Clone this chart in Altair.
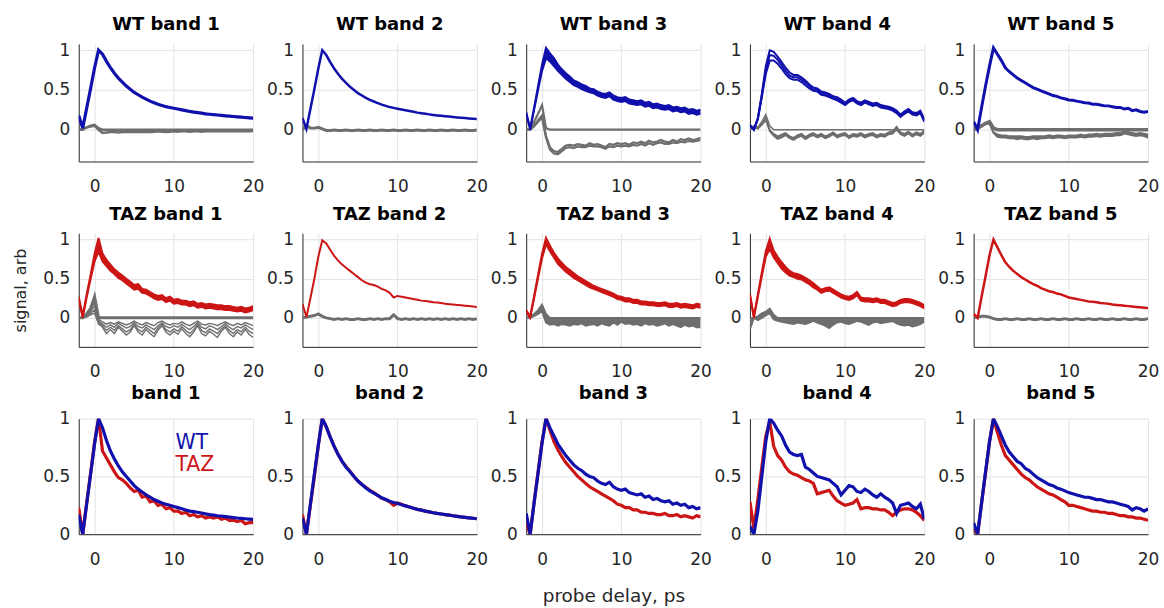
import altair as alt
import pandas as pd

# probe delay grid (ps)
X = [-2, -1.5, -1, -0.5, 0,
     0.5, 1, 1.5, 2, 2.5,
     3, 3.5, 4, 4.5, 5,
     5.5, 6, 6.5, 7, 7.5,
     8, 8.5, 9, 9.5, 10,
     10.5, 11, 11.5, 12, 12.5,
     13, 13.5, 14, 14.5, 15,
     15.5, 16, 16.5, 17, 17.5,
     18, 18.5, 19, 19.5, 20]

TITLES_WT = ["WT band 1", "WT band 2", "WT band 3", "WT band 4", "WT band 5"]
TITLES_TAZ = ["TAZ band 1", "TAZ band 2", "TAZ band 3", "TAZ band 4", "TAZ band 5"]
TITLES_CMP = ["band 1", "band 2", "band 3", "band 4", "band 5"]
LEGEND = ["WT", "TAZ"]
X_TICKS = [0, 10, 20]
Y_TICKS = [0, 0.5, 1]

# ---------------- WT row ----------------
WT1_BLUE = [0.18, 0.02, 0.27, 0.52, 0.78,
            1.00, 0.95, 0.86, 0.78, 0.71,
            0.65, 0.60, 0.55, 0.51, 0.47,
            0.44, 0.41, 0.385, 0.36, 0.34,
            0.32, 0.305, 0.29, 0.28, 0.27,
            0.26, 0.25, 0.24, 0.23, 0.222,
            0.215, 0.208, 0.20, 0.195, 0.19,
            0.185, 0.18, 0.175, 0.17, 0.166,
            0.162, 0.158, 0.154, 0.15, 0.147]
WT1_GRAY_A = [0, 0, 0.03, 0.05, 0.06,
              0.02, 0, 0, 0, 0,
              0, 0, 0, 0, 0,
              0, 0, 0, 0, 0,
              0, 0, 0, 0, 0,
              0, 0, 0, 0, 0,
              0, 0, 0, 0, 0,
              0, 0, 0, 0, 0,
              0, 0, 0, 0, 0]
WT1_GRAY_B = [0, 0.01, 0.03, 0.04, 0.05,
              0.0, -0.04, -0.035, -0.03, -0.03,
              -0.035, -0.03, -0.03, -0.025, -0.03,
              -0.03, -0.025, -0.03, -0.03, -0.025,
              -0.02, -0.025, -0.03, -0.025, -0.02,
              -0.025, -0.02, -0.02, -0.025, -0.02,
              -0.02, -0.025, -0.02, -0.02, -0.02,
              -0.015, -0.02, -0.02, -0.015, -0.02,
              -0.02, -0.015, -0.02, -0.02, -0.015]

WT2_BLUE = [0.15, 0.01, 0.26, 0.51, 0.77,
            1.00, 0.94, 0.85, 0.77, 0.70,
            0.64, 0.59, 0.54, 0.50, 0.46,
            0.43, 0.40, 0.375, 0.355, 0.335,
            0.315, 0.30, 0.285, 0.275, 0.265,
            0.255, 0.245, 0.235, 0.225, 0.215,
            0.208, 0.20, 0.193, 0.186, 0.18,
            0.175, 0.17, 0.165, 0.16, 0.155,
            0.15, 0.146, 0.142, 0.138, 0.134]
WT2_GRAY = [0, 0.05, 0.02, 0.02, 0.03,
            0.01, -0.01, -0.01, -0.005, -0.01,
            -0.01, -0.005, -0.01, -0.01, -0.005,
            -0.01, -0.01, -0.005, -0.01, -0.01,
            -0.005, -0.01, -0.01, -0.005, -0.01,
            -0.01, -0.005, -0.01, -0.01, -0.005,
            -0.01, -0.01, -0.005, -0.01, -0.01,
            -0.005, -0.01, -0.01, -0.005, -0.01,
            -0.01, -0.005, -0.01, -0.01, -0.005]

WT3_BLUE_HI = [0.22, 0.02, 0.28, 0.55, 0.82,
               1.03, 0.96, 0.90, 0.82, 0.76,
               0.71, 0.67, 0.62, 0.60, 0.57,
               0.55, 0.52, 0.51, 0.48, 0.46,
               0.45, 0.47, 0.43, 0.41, 0.40,
               0.41, 0.38, 0.37, 0.36, 0.37,
               0.34, 0.35, 0.32, 0.33, 0.31,
               0.30, 0.31, 0.28, 0.29, 0.27,
               0.28, 0.25, 0.26, 0.24, 0.25]
WT3_BLUE_LO = [0.20, 0.0, 0.25, 0.50, 0.74,
               0.90, 0.86, 0.80, 0.74, 0.69,
               0.64, 0.60, 0.56, 0.54, 0.51,
               0.49, 0.47, 0.46, 0.43, 0.41,
               0.40, 0.42, 0.38, 0.36, 0.35,
               0.36, 0.33, 0.32, 0.31, 0.32,
               0.29, 0.30, 0.27, 0.28, 0.26,
               0.25, 0.26, 0.23, 0.24, 0.22,
               0.23, 0.20, 0.21, 0.19, 0.20]
WT3_GRAY_A = [0, 0, 0.10, 0.20, 0.31,
              0.02, 0, 0, 0, 0,
              0, 0, 0, 0, 0,
              0, 0, 0, 0, 0,
              0, 0, 0, 0, 0,
              0, 0, 0, 0, 0,
              0, 0, 0, 0, 0,
              0, 0, 0, 0, 0,
              0, 0, 0, 0, 0]
WT3_GRAY_B = [0, 0, 0.05, 0.12, 0.18,
              -0.08, -0.22, -0.27, -0.28, -0.24,
              -0.20, -0.19, -0.20, -0.18, -0.19,
              -0.20, -0.17, -0.19, -0.18, -0.20,
              -0.22, -0.18, -0.19, -0.17, -0.18,
              -0.17, -0.19, -0.16, -0.17, -0.15,
              -0.17, -0.14, -0.16, -0.15, -0.13,
              -0.15, -0.16, -0.13, -0.15, -0.12,
              -0.13, -0.11, -0.13, -0.12, -0.10]
WT3_GRAY_C = [0, 0, 0.04, 0.10, 0.15,
              -0.10, -0.25, -0.30, -0.31, -0.27,
              -0.23, -0.22, -0.23, -0.21, -0.22,
              -0.22, -0.20, -0.21, -0.21, -0.22,
              -0.24, -0.21, -0.22, -0.20, -0.21,
              -0.20, -0.21, -0.19, -0.20, -0.18,
              -0.20, -0.17, -0.19, -0.17, -0.16,
              -0.18, -0.18, -0.16, -0.17, -0.15,
              -0.16, -0.14, -0.15, -0.14, -0.13]

WT4_BLUE_A = [0.06, 0.0, 0.15, 0.45, 0.80,
              1.00, 0.98, 0.92, 0.85, 0.78,
              0.72, 0.69, 0.69, 0.66, 0.62,
              0.57, 0.53, 0.52, 0.48, 0.47,
              0.45, 0.42, 0.41, 0.38, 0.34,
              0.38, 0.40, 0.36, 0.34, 0.37,
              0.35, 0.33, 0.34, 0.31, 0.30,
              0.29, 0.27, 0.24, 0.19, 0.23,
              0.26, 0.22, 0.21, 0.24, 0.13]
WT4_BLUE_B = [0.06, 0.0, 0.14, 0.43, 0.75,
              0.94, 0.93, 0.88, 0.81, 0.74,
              0.68, 0.66, 0.66, 0.63, 0.59,
              0.55, 0.51, 0.50, 0.46, 0.45,
              0.43, 0.40, 0.39, 0.36, 0.33,
              0.36, 0.38, 0.34, 0.33, 0.35,
              0.33, 0.32, 0.32, 0.30, 0.29,
              0.28, 0.26, 0.23, 0.18, 0.22,
              0.25, 0.21, 0.20, 0.23, 0.12]
WT4_BLUE_C = [0.05, 0.0, 0.13, 0.41, 0.70,
              0.87, 0.87, 0.83, 0.77, 0.70,
              0.65, 0.63, 0.63, 0.60, 0.56,
              0.52, 0.49, 0.48, 0.44, 0.43,
              0.41, 0.39, 0.37, 0.34, 0.31,
              0.35, 0.37, 0.33, 0.31, 0.34,
              0.32, 0.30, 0.31, 0.28, 0.27,
              0.26, 0.24, 0.21, 0.16, 0.20,
              0.23, 0.19, 0.18, 0.21, 0.10]
WT4_GRAY_A = [0, 0.05, 0.03, 0.10, 0.19,
              0.05, 0, 0, 0, 0,
              0, 0, 0, 0, 0,
              0, 0, 0, 0, 0,
              0, 0, 0, 0, 0,
              0, 0, 0, 0, 0,
              0, 0, 0, 0, 0,
              0, 0, 0, 0, 0,
              0, 0, 0, 0, 0]
WT4_GRAY_B = [0, 0.04, 0.02, 0.08, 0.15,
              0.0, -0.05, -0.08, -0.06, -0.04,
              -0.08, -0.10, -0.07, -0.05, -0.09,
              -0.06, -0.04, -0.07, -0.05, -0.08,
              -0.06, -0.03, -0.07, -0.05, -0.04,
              -0.08, -0.05, -0.06, -0.04, -0.07,
              -0.05, -0.04, -0.07, -0.05, -0.06,
              -0.03, -0.02, 0.04, -0.03, -0.05,
              -0.02, -0.06, -0.03, -0.05, -0.01]
WT4_GRAY_C = [0, 0.03, 0.01, 0.06, 0.12,
              -0.02, -0.08, -0.12, -0.10, -0.07,
              -0.11, -0.13, -0.10, -0.08, -0.12,
              -0.09, -0.07, -0.10, -0.08, -0.11,
              -0.09, -0.06, -0.10, -0.08, -0.07,
              -0.11, -0.08, -0.09, -0.07, -0.10,
              -0.08, -0.07, -0.10, -0.08, -0.09,
              -0.06, -0.05, 0.00, -0.06, -0.08,
              -0.05, -0.09, -0.06, -0.08, -0.04]

WT5_BLUE = [0.10, 0.0, 0.28, 0.55, 0.80,
            1.03, 0.95, 0.87, 0.78, 0.73,
            0.69, 0.65, 0.62, 0.59, 0.56,
            0.53, 0.51, 0.49, 0.47, 0.45,
            0.43, 0.42, 0.40, 0.39, 0.375,
            0.37, 0.36, 0.35, 0.34, 0.335,
            0.32, 0.32, 0.31, 0.30, 0.30,
            0.29, 0.28, 0.28, 0.26, 0.27,
            0.24, 0.25, 0.23, 0.22, 0.23]
WT5_GRAY_A = [0, 0.02, 0.05, 0.08, 0.10,
              0.02, 0, 0, 0, 0,
              0, 0, 0, 0, 0,
              0, 0, 0, 0, 0,
              0, 0, 0, 0, 0,
              0, 0, 0, 0, 0,
              0, 0, 0, 0, 0,
              0, 0, 0, 0, 0,
              0, 0, 0, 0, 0]
WT5_GRAY_B = [0, 0.01, 0.04, 0.07, 0.08,
              -0.04, -0.09, -0.10, -0.10, -0.11,
              -0.11, -0.12, -0.11, -0.12, -0.12,
              -0.11, -0.12, -0.11, -0.11, -0.10,
              -0.11, -0.10, -0.10, -0.11, -0.10,
              -0.10, -0.10, -0.09, -0.10, -0.09,
              -0.09, -0.08, -0.09, -0.08, -0.08,
              -0.08, -0.07, -0.07, -0.05, -0.06,
              -0.07, -0.08, -0.07, -0.08, -0.10]
WT5_GRAY_C = [0, 0.01, 0.04, 0.07, 0.08,
              -0.03, -0.06, -0.07, -0.07, -0.08,
              -0.08, -0.08, -0.08, -0.09, -0.09,
              -0.08, -0.08, -0.08, -0.08, -0.07,
              -0.08, -0.07, -0.07, -0.08, -0.07,
              -0.07, -0.07, -0.06, -0.07, -0.06,
              -0.06, -0.05, -0.06, -0.05, -0.05,
              -0.05, -0.04, -0.04, -0.02, -0.03,
              -0.04, -0.05, -0.04, -0.05, -0.06]

# ---------------- TAZ row ----------------
TAZ1_RED_HI = [0.27, 0.03, 0.30, 0.55, 0.82,
               1.02, 0.82, 0.74, 0.68, 0.62,
               0.58, 0.54, 0.50, 0.46, 0.42,
               0.43, 0.37, 0.36, 0.33, 0.30,
               0.28, 0.29, 0.25, 0.27, 0.23,
               0.24, 0.22, 0.22, 0.20, 0.21,
               0.18, 0.19, 0.17, 0.18, 0.17,
               0.16, 0.16, 0.15, 0.15, 0.14,
               0.13, 0.14, 0.12, 0.13, 0.15]
TAZ1_RED_LO = [0.23, 0.0, 0.26, 0.50, 0.72,
               0.85, 0.72, 0.66, 0.60, 0.56,
               0.51, 0.48, 0.44, 0.40, 0.36,
               0.37, 0.32, 0.31, 0.28, 0.25,
               0.23, 0.24, 0.20, 0.22, 0.18,
               0.19, 0.17, 0.17, 0.15, 0.16,
               0.13, 0.14, 0.12, 0.13, 0.12,
               0.11, 0.11, 0.10, 0.10, 0.09,
               0.08, 0.09, 0.07, 0.08, 0.10]
TAZ1_GRAY_0 = [0, 0, 0.05, 0.12, 0.27,
               0.0, 0, 0, 0, 0,
               0, 0, 0, 0, 0,
               0, 0, 0, 0, 0,
               0, 0, 0, 0, 0,
               0, 0, 0, 0, 0,
               0, 0, 0, 0, 0,
               0, 0, 0, 0, 0,
               0, 0, 0, 0, 0]
TAZ1_GRAY_1 = [0, 0, 0.04, 0.10, 0.20,
               -0.02, -0.05, -0.08, -0.06, -0.08,
               -0.05, -0.07, -0.09, -0.07, -0.04,
               -0.07, -0.09, -0.06, -0.08, -0.10,
               -0.06, -0.04, -0.07, -0.09, -0.07,
               -0.08, -0.05, -0.08, -0.10, -0.07,
               -0.04, -0.08, -0.09, -0.07, -0.08,
               -0.10, -0.07, -0.05, -0.08, -0.10,
               -0.07, -0.09, -0.06, -0.08, -0.10]
TAZ1_GRAY_2 = [0, 0, 0.03, 0.08, 0.15,
               -0.04, -0.08, -0.12, -0.09, -0.12,
               -0.07, -0.10, -0.13, -0.11, -0.06,
               -0.11, -0.13, -0.09, -0.12, -0.15,
               -0.10, -0.06, -0.11, -0.13, -0.10,
               -0.12, -0.08, -0.12, -0.15, -0.11,
               -0.06, -0.12, -0.14, -0.10, -0.12,
               -0.15, -0.11, -0.07, -0.12, -0.15,
               -0.11, -0.13, -0.09, -0.12, -0.15]
TAZ1_GRAY_3 = [0, 0, 0.02, 0.06, 0.10,
               -0.06, -0.10, -0.16, -0.12, -0.16,
               -0.10, -0.14, -0.18, -0.15, -0.08,
               -0.15, -0.18, -0.12, -0.16, -0.20,
               -0.13, -0.08, -0.15, -0.18, -0.14,
               -0.17, -0.11, -0.16, -0.20, -0.15,
               -0.08, -0.16, -0.19, -0.14, -0.17,
               -0.20, -0.14, -0.10, -0.16, -0.20,
               -0.15, -0.18, -0.12, -0.17, -0.20]
TAZ1_GRAY_4 = [0, 0, 0.01, 0.04, 0.06,
               -0.08, -0.12, -0.20, -0.15, -0.20,
               -0.12, -0.17, -0.22, -0.18, -0.10,
               -0.18, -0.22, -0.15, -0.20, -0.24,
               -0.16, -0.10, -0.18, -0.22, -0.17,
               -0.21, -0.14, -0.20, -0.24, -0.18,
               -0.10, -0.20, -0.23, -0.17, -0.21,
               -0.25, -0.17, -0.12, -0.20, -0.24,
               -0.18, -0.22, -0.15, -0.21, -0.25]

TAZ2_RED = [0.18, 0.01, 0.25, 0.50, 0.78,
            0.99, 0.95, 0.87, 0.79, 0.73,
            0.68, 0.64, 0.60, 0.56, 0.52,
            0.48, 0.45, 0.43, 0.42, 0.40,
            0.37, 0.35, 0.32, 0.26, 0.28,
            0.27, 0.26, 0.25, 0.24, 0.23,
            0.22, 0.215, 0.21, 0.20, 0.195,
            0.19, 0.18, 0.175, 0.17, 0.165,
            0.16, 0.155, 0.15, 0.145, 0.14]
TAZ2_GRAY = [0, 0.01, 0.02, 0.03, 0.05,
             0.02, 0.0, -0.01, -0.02, -0.01,
             -0.02, -0.01, -0.02, -0.02, -0.01,
             -0.02, -0.02, -0.01, -0.02, -0.01,
             -0.02, -0.01, -0.01, 0.04, -0.01,
             -0.02, -0.01, -0.02, -0.01, -0.02,
             -0.01, -0.02, -0.01, -0.02, -0.01,
             -0.02, -0.01, -0.02, -0.01, -0.02,
             -0.01, -0.02, -0.01, -0.02, -0.01]

TAZ3_RED_HI = [0.10, 0.02, 0.28, 0.55, 0.82,
               1.02, 0.92, 0.83, 0.76, 0.70,
               0.65, 0.61, 0.57, 0.53, 0.50,
               0.47, 0.44, 0.41, 0.39, 0.37,
               0.35, 0.33, 0.31, 0.28, 0.27,
               0.25, 0.25, 0.23, 0.23, 0.21,
               0.21, 0.20, 0.20, 0.19, 0.19,
               0.20, 0.18, 0.18, 0.19, 0.17,
               0.18, 0.17, 0.16, 0.18, 0.17]
TAZ3_RED_LO = [0.08, 0.0, 0.25, 0.51, 0.76,
               0.94, 0.85, 0.77, 0.69, 0.64,
               0.59, 0.55, 0.51, 0.48, 0.45,
               0.42, 0.39, 0.37, 0.35, 0.33,
               0.31, 0.29, 0.27, 0.24, 0.23,
               0.21, 0.21, 0.19, 0.19, 0.17,
               0.17, 0.16, 0.16, 0.15, 0.15,
               0.16, 0.14, 0.14, 0.15, 0.13,
               0.14, 0.13, 0.12, 0.14, 0.13]
TAZ3_GRAY_HI = [0, 0.02, 0.05, 0.10, 0.17,
                0.05, 0, 0, 0, 0,
                0, 0, 0, 0, 0,
                0, 0, 0, 0, 0,
                0, 0, 0, 0, 0,
                0, 0, 0, 0, 0,
                0, 0, 0, 0, 0,
                0, 0, 0, 0, 0,
                0, 0, 0, 0, 0]
TAZ3_GRAY_LO = [0, 0, 0.02, 0.05, 0.08,
                -0.06, -0.09, -0.08, -0.10, -0.08,
                -0.09, -0.10, -0.08, -0.09, -0.07,
                -0.10, -0.09, -0.08, -0.10, -0.07,
                -0.09, -0.10, -0.06, -0.09, -0.05,
                -0.08, -0.07, -0.09, -0.08, -0.10,
                -0.07, -0.09, -0.08, -0.10, -0.09,
                -0.07, -0.10, -0.08, -0.10, -0.12,
                -0.09, -0.11, -0.10, -0.12, -0.12]

TAZ4_RED_HI = [0.31, 0.02, 0.30, 0.58, 0.85,
               1.01, 0.86, 0.78, 0.71, 0.65,
               0.60, 0.57, 0.56, 0.54, 0.51,
               0.48, 0.44, 0.40, 0.36, 0.38,
               0.39, 0.36, 0.33, 0.30, 0.28,
               0.27, 0.29, 0.33, 0.26, 0.25,
               0.25, 0.24, 0.25, 0.23, 0.23,
               0.21, 0.19, 0.20, 0.23, 0.24,
               0.24, 0.23, 0.21, 0.19, 0.16]
TAZ4_RED_LO = [0.28, 0.0, 0.27, 0.53, 0.78,
               0.88, 0.77, 0.70, 0.63, 0.58,
               0.54, 0.52, 0.50, 0.49, 0.46,
               0.43, 0.39, 0.36, 0.32, 0.34,
               0.35, 0.32, 0.29, 0.26, 0.24,
               0.23, 0.25, 0.29, 0.22, 0.21,
               0.21, 0.20, 0.21, 0.19, 0.19,
               0.17, 0.15, 0.16, 0.19, 0.20,
               0.20, 0.19, 0.17, 0.15, 0.12]
TAZ4_GRAY_HI = [0, 0, 0.02, 0.06, 0.08,
                0.12, 0.04, 0, 0, 0,
                0, 0, 0, 0, 0,
                0, 0, 0, 0, 0,
                0, 0, 0, 0, 0,
                0, 0, 0, 0, 0,
                0, 0, 0, 0, 0,
                0, 0, 0, 0, 0,
                0, 0, 0, 0, 0]
TAZ4_GRAY_LO = [-0.15, 0.0, -0.03, 0.0, 0.03,
                0.06, -0.02, -0.04, -0.05, -0.06,
                -0.07, -0.08, -0.06, -0.07, -0.08,
                -0.06, -0.04, -0.06, -0.08, -0.10,
                -0.13, -0.09, -0.06, -0.05, -0.07,
                -0.08, -0.06, -0.04, -0.05, -0.07,
                -0.09, -0.06, -0.05, -0.07, -0.06,
                -0.05, -0.04, -0.07, -0.09, -0.10,
                -0.09, -0.11, -0.10, -0.08, -0.05]

TAZ5_RED = [0.05, 0.0, 0.27, 0.53, 0.80,
            1.00, 0.90, 0.80, 0.71, 0.65,
            0.60, 0.56, 0.52, 0.49, 0.46,
            0.43, 0.41, 0.38, 0.36, 0.34,
            0.33, 0.31, 0.30, 0.28, 0.26,
            0.25, 0.24, 0.23, 0.22, 0.21,
            0.205, 0.20, 0.19, 0.185, 0.18,
            0.17, 0.165, 0.16, 0.155, 0.15,
            0.145, 0.14, 0.135, 0.13, 0.125]
TAZ5_GRAY = [0, 0.01, 0.02, 0.02, 0.01,
             -0.01, -0.02, -0.02, -0.01, -0.02,
             -0.02, -0.01, -0.02, -0.02, -0.01,
             -0.02, -0.02, -0.01, -0.02, -0.02,
             -0.01, -0.02, -0.02, -0.01, -0.02,
             -0.02, -0.01, -0.02, -0.02, -0.01,
             -0.02, -0.02, -0.01, -0.02, -0.02,
             -0.01, -0.02, -0.02, -0.01, -0.02,
             -0.02, -0.01, -0.02, -0.02, -0.01]

# ---------------- comparison row ----------------
CMP1_WT = [0.17, 0.0, 0.26, 0.52, 0.78,
           1.00, 0.92, 0.81, 0.72, 0.65,
           0.59, 0.54, 0.50, 0.46, 0.42,
           0.39, 0.365, 0.34, 0.32, 0.30,
           0.285, 0.27, 0.26, 0.25, 0.24,
           0.23, 0.22, 0.21, 0.20, 0.195,
           0.19, 0.183, 0.176, 0.17, 0.165,
           0.16, 0.156, 0.152, 0.148, 0.144,
           0.14, 0.137, 0.134, 0.131, 0.128]
CMP1_TAZ = [0.23, 0.0, 0.27, 0.53, 0.80,
            1.00, 0.72, 0.66, 0.60, 0.54,
            0.49, 0.47, 0.44, 0.40, 0.37,
            0.38, 0.32, 0.33, 0.28, 0.29,
            0.25, 0.26, 0.22, 0.23, 0.20,
            0.20, 0.18, 0.19, 0.16, 0.17,
            0.15, 0.16, 0.14, 0.15, 0.14,
            0.15, 0.13, 0.14, 0.12, 0.12,
            0.11, 0.12, 0.09, 0.10, 0.10]
CMP2_WT = [0.14, 0.0, 0.26, 0.52, 0.77,
           1.00, 0.93, 0.84, 0.76, 0.69,
           0.63, 0.58, 0.54, 0.50, 0.46,
           0.43, 0.40, 0.375, 0.355, 0.335,
           0.315, 0.30, 0.285, 0.275, 0.265,
           0.255, 0.245, 0.235, 0.225, 0.215,
           0.208, 0.20, 0.193, 0.186, 0.18,
           0.175, 0.17, 0.165, 0.16, 0.155,
           0.15, 0.146, 0.142, 0.138, 0.134]
CMP2_TAZ = [0.17, 0.0, 0.25, 0.50, 0.77,
            1.00, 0.93, 0.84, 0.76, 0.69,
            0.63, 0.585, 0.545, 0.50, 0.46,
            0.43, 0.405, 0.38, 0.36, 0.335,
            0.31, 0.30, 0.28, 0.25, 0.27,
            0.26, 0.245, 0.235, 0.225, 0.215,
            0.208, 0.20, 0.193, 0.186, 0.18,
            0.175, 0.17, 0.165, 0.16, 0.155,
            0.15, 0.146, 0.142, 0.138, 0.134]
CMP3_WT = [0.18, 0.0, 0.27, 0.53, 0.79,
           1.00, 0.92, 0.85, 0.78, 0.73,
           0.68, 0.64, 0.60, 0.57, 0.55,
           0.52, 0.50, 0.49, 0.46, 0.44,
           0.43, 0.45, 0.41, 0.39, 0.38,
           0.39, 0.36, 0.35, 0.34, 0.35,
           0.32, 0.33, 0.30, 0.31, 0.29,
           0.28, 0.29, 0.26, 0.27, 0.25,
           0.26, 0.23, 0.24, 0.22, 0.23]
CMP3_TAZ = [0.10, 0.0, 0.28, 0.54, 0.80,
            1.00, 0.90, 0.80, 0.73, 0.67,
            0.62, 0.58, 0.54, 0.50, 0.47,
            0.44, 0.41, 0.39, 0.37, 0.35,
            0.33, 0.31, 0.29, 0.26, 0.25,
            0.23, 0.23, 0.21, 0.21, 0.19,
            0.19, 0.18, 0.18, 0.17, 0.17,
            0.18, 0.16, 0.16, 0.17, 0.15,
            0.16, 0.15, 0.14, 0.16, 0.15]
CMP4_WT = [0.07, 0.0, 0.20, 0.50, 0.80,
           1.00, 0.96, 0.90, 0.85, 0.77,
           0.71, 0.69, 0.68, 0.69, 0.58,
           0.56, 0.53, 0.50, 0.49, 0.48,
           0.47, 0.44, 0.41, 0.34, 0.38,
           0.42, 0.41, 0.37, 0.36, 0.39,
           0.37, 0.34, 0.32, 0.35, 0.32,
           0.30, 0.27, 0.18, 0.25, 0.26,
           0.27, 0.24, 0.22, 0.26, 0.13]
CMP4_TAZ = [0.28, 0.05, 0.30, 0.58, 0.85,
            0.97, 0.76, 0.68, 0.64, 0.58,
            0.54, 0.52, 0.51, 0.49, 0.47,
            0.46, 0.44, 0.35, 0.36, 0.37,
            0.38, 0.33, 0.29, 0.27, 0.25,
            0.26, 0.27, 0.30, 0.22, 0.23,
            0.23, 0.22, 0.22, 0.21, 0.21,
            0.19, 0.16, 0.19, 0.21, 0.22,
            0.22, 0.21, 0.19, 0.16, 0.12]
CMP5_WT = [0.10, 0.0, 0.27, 0.54, 0.80,
           1.00, 0.93, 0.85, 0.77, 0.71,
           0.67, 0.63, 0.61, 0.57, 0.55,
           0.52, 0.49, 0.47, 0.45, 0.43,
           0.42, 0.40, 0.39, 0.375, 0.36,
           0.35, 0.34, 0.33, 0.32, 0.32,
           0.31, 0.30, 0.30, 0.29, 0.28,
           0.28, 0.27, 0.26, 0.25, 0.24,
           0.21, 0.23, 0.22, 0.20, 0.22]
CMP5_TAZ = [0.05, 0.0, 0.27, 0.53, 0.80,
            1.00, 0.88, 0.77, 0.68, 0.64,
            0.60, 0.56, 0.52, 0.49, 0.47,
            0.44, 0.41, 0.39, 0.37, 0.35,
            0.34, 0.32, 0.30, 0.28, 0.25,
            0.25, 0.24, 0.23, 0.22, 0.21,
            0.20, 0.20, 0.19, 0.19, 0.18,
            0.18, 0.17, 0.16, 0.16, 0.15,
            0.15, 0.14, 0.14, 0.13, 0.12]

# ---------------- styling ----------------
BLUE = "#1010ac"
RED = "#cc1515"
GRAY = "#6e6e6e"
FONT = "DejaVu Sans"
TEXT = "#262626"
PANEL_W = 175


def line(vals, color, sw):
    return ("line", vals, color, sw)


def band(lo, hi, color, sw):
    return ("band", lo, hi, color, sw)


def make_panel(title, items, ydom, height, xtitle=None, ytitle=None, legend=False):
    xaxis = alt.Axis(values=X_TICKS, title=xtitle, titleFontSize=18.5,
                     titlePadding=20)
    yaxis = alt.Axis(values=Y_TICKS, format="~g", title=ytitle,
                     titleFontSize=16, titlePadding=14)
    xenc = alt.X("x:Q", scale=alt.Scale(domain=[-2, 20], nice=False, zero=False), axis=xaxis)
    yenc = alt.Y("y:Q", scale=alt.Scale(domain=ydom, nice=False, zero=False), axis=yaxis)
    layers = []
    for it in items:
        if it[0] == "band":
            _, lo, hi, color, sw = it
            df = pd.DataFrame({"x": X, "y": lo, "y2": hi})
            layers.append(alt.Chart(df).mark_area(color=color, opacity=1, clip=True)
                          .encode(x=xenc, y=yenc, y2="y2:Q"))
            for arr in (lo, hi):
                d2 = pd.DataFrame({"x": X, "y": arr})
                layers.append(alt.Chart(d2).mark_line(color=color, strokeWidth=sw, clip=True)
                              .encode(x=xenc, y=yenc))
        else:
            _, vals, color, sw = it
            d2 = pd.DataFrame({"x": X, "y": vals})
            layers.append(alt.Chart(d2).mark_line(color=color, strokeWidth=sw, clip=True)
                          .encode(x=xenc, y=yenc))
    if legend:
        for lab, col, ypix in ((LEGEND[0], BLUE, 24), (LEGEND[1], RED, 47)):
            layers.append(
                alt.Chart(pd.DataFrame({"t": [lab]}))
                .mark_text(align="left", baseline="middle", font=FONT, fontSize=20.5, color=col)
                .encode(text="t:N", x=alt.value(97), y=alt.value(ypix))
            )
    return alt.layer(*layers).properties(width=PANEL_W, height=height, title=title)


TOP_DOM = [-0.4, 1.08]
MID_DOM = [-0.37, 1.08]
BOT_DOM = [0, 1]

row1_items = [
    [line(WT1_GRAY_A, GRAY, 2.5), line(WT1_GRAY_B, GRAY, 2.5), line(WT1_BLUE, BLUE, 3.2)],
    [line(WT2_GRAY, GRAY, 3), line(WT2_BLUE, BLUE, 2.5)],
    [line(WT3_GRAY_A, GRAY, 2.2), line(WT3_GRAY_B, GRAY, 2.2), line(WT3_GRAY_C, GRAY, 2.2),
     band(WT3_BLUE_LO, WT3_BLUE_HI, BLUE, 2)],
    [line(WT4_GRAY_A, GRAY, 1.5), band(WT4_GRAY_C, WT4_GRAY_B, GRAY, 1.5),
     line(WT4_BLUE_C, BLUE, 2), line(WT4_BLUE_B, BLUE, 2), line(WT4_BLUE_A, BLUE, 2)],
    [line(WT5_GRAY_A, GRAY, 3.5), band(WT5_GRAY_B, WT5_GRAY_C, GRAY, 1.8), line(WT5_BLUE, BLUE, 3)],
]
row2_items = [
    [line(TAZ1_GRAY_4, GRAY, 1.4), line(TAZ1_GRAY_3, GRAY, 1.4), line(TAZ1_GRAY_2, GRAY, 1.4),
     line(TAZ1_GRAY_1, GRAY, 1.4), line(TAZ1_GRAY_0, GRAY, 3),
     band(TAZ1_RED_LO, TAZ1_RED_HI, RED, 2)],
    [line(TAZ2_GRAY, GRAY, 3), line(TAZ2_RED, RED, 2)],
    [band(TAZ3_GRAY_LO, TAZ3_GRAY_HI, GRAY, 1.8), band(TAZ3_RED_LO, TAZ3_RED_HI, RED, 2)],
    [band(TAZ4_GRAY_LO, TAZ4_GRAY_HI, GRAY, 1.8), band(TAZ4_RED_LO, TAZ4_RED_HI, RED, 2)],
    [line(TAZ5_GRAY, GRAY, 3), line(TAZ5_RED, RED, 2.5)],
]
row3_items = [
    [line(CMP1_TAZ, RED, 3.2), line(CMP1_WT, BLUE, 3.2)],
    [line(CMP2_TAZ, RED, 3.2), line(CMP2_WT, BLUE, 3.2)],
    [line(CMP3_TAZ, RED, 3.2), line(CMP3_WT, BLUE, 3.2)],
    [line(CMP4_TAZ, RED, 3.2), line(CMP4_WT, BLUE, 3.2)],
    [line(CMP5_TAZ, RED, 3.2), line(CMP5_WT, BLUE, 3.2)],
]

row1 = [make_panel(TITLES_WT[i], row1_items[i], TOP_DOM, 118) for i in range(5)]
row2 = [make_panel(TITLES_TAZ[i], row2_items[i], MID_DOM, 114,
                   ytitle=("signal, arb" if i == 0 else None)) for i in range(5)]
row3 = [make_panel(TITLES_CMP[i], row3_items[i], BOT_DOM, 116,
                   xtitle=("probe delay, ps" if i == 2 else None), legend=(i == 0)) for i in range(5)]

chart = alt.concat(
    *(row1 + row2 + row3), columns=5,
    spacing={"row": 72, "column": 49.5}, bounds="flush",
).properties(
    padding={"left": 12, "top": 15, "right": 5, "bottom": 5}
).configure_view(
    strokeWidth=0
).configure_axis(
    domainColor=TEXT, domainWidth=1, gridColor="#e3e3e3", gridWidth=1,
    labelFont=FONT, labelFontSize=17, labelColor=TEXT, labelFlush=False,
    ticks=False, tickSize=0,
    titleFont=FONT, titleFontWeight="normal", titleColor=TEXT,
).configure_axisX(
    labelPadding=17
).configure_axisY(
    labelPadding=9
).configure_title(
    font=FONT, fontSize=18, fontWeight="bold", color="#000000", offset=7, anchor="middle"
)

chart.save("out.html", embed_options={"renderer": "svg", "actions": False})
